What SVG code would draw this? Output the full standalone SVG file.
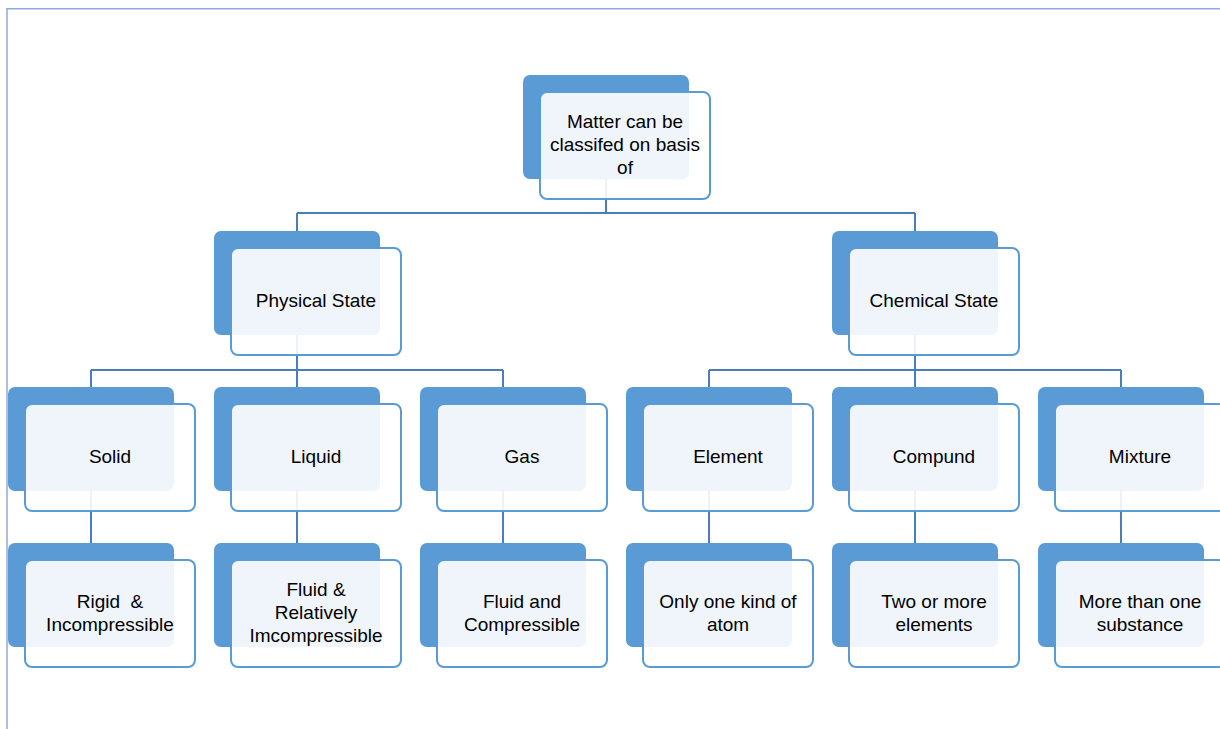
<svg xmlns="http://www.w3.org/2000/svg" width="1220" height="729" viewBox="0 0 1220 729">
<style>
.bk{fill:#5B9BD5;}
.fr{fill:#FFFFFF;fill-opacity:0.9;stroke:#5B9BD5;stroke-width:2;}
.cn{stroke:#4A7EBB;stroke-width:2;fill:none;}
.fm{stroke:#8FAADC;stroke-width:1.5;fill:none;}
text{font-family:"Liberation Sans",Arial,sans-serif;font-size:19px;fill:#000;text-anchor:middle;}
</style>
<rect width="1220" height="729" fill="#FFFFFF"/>
<path class="fm" d="M7,729 V8.7 H1220"/>
<g id="connectors">
<path class="cn" d="M606,179 V213 M297,213 H915 M297,213 V231 M915,213 V231"/>
<path class="cn" d="M297,335 V370 M91,370 H503 M91,370 V387 M297,370 V387 M503,370 V387"/>
<path class="cn" d="M915,335 V370 M709,370 H1121 M709,370 V387 M915,370 V387 M1121,370 V387"/>
<path class="cn" d="M91,491 V543 M297,491 V543 M503,491 V543 M709,491 V543 M915,491 V543 M1121,491 V543"/>
</g>
<g id="root">
<rect class="bk" x="523" y="75" width="166" height="104" rx="7"/>
<rect class="fr" x="540" y="92" width="170" height="107" rx="7"/>
<text x="625" y="128">Matter can be</text>
<text x="625" y="151">classifed on basis</text>
<text x="625" y="174">of</text>
</g>
<g id="physical">
<rect class="bk" x="214" y="231" width="166" height="104" rx="7"/>
<rect class="fr" x="231" y="248" width="170" height="107" rx="7"/>
<text x="316" y="307">Physical State</text>
</g>
<g id="chemical">
<rect class="bk" x="832" y="231" width="166" height="104" rx="7"/>
<rect class="fr" x="849" y="248" width="170" height="107" rx="7"/>
<text x="934" y="307">Chemical State</text>
</g>
<g id="solid">
<rect class="bk" x="8" y="387" width="166" height="104" rx="7"/>
<rect class="fr" x="25" y="404" width="170" height="107" rx="7"/>
<text x="110" y="463">Solid</text>
</g>
<g id="liquid">
<rect class="bk" x="214" y="387" width="166" height="104" rx="7"/>
<rect class="fr" x="231" y="404" width="170" height="107" rx="7"/>
<text x="316" y="463">Liquid</text>
</g>
<g id="gas">
<rect class="bk" x="420" y="387" width="166" height="104" rx="7"/>
<rect class="fr" x="437" y="404" width="170" height="107" rx="7"/>
<text x="522" y="463">Gas</text>
</g>
<g id="element">
<rect class="bk" x="626" y="387" width="166" height="104" rx="7"/>
<rect class="fr" x="643" y="404" width="170" height="107" rx="7"/>
<text x="728" y="463">Element</text>
</g>
<g id="compound">
<rect class="bk" x="832" y="387" width="166" height="104" rx="7"/>
<rect class="fr" x="849" y="404" width="170" height="107" rx="7"/>
<text x="934" y="463">Compund</text>
</g>
<g id="mixture">
<rect class="bk" x="1038" y="387" width="166" height="104" rx="7"/>
<rect class="fr" x="1055" y="404" width="170" height="107" rx="7"/>
<text x="1140" y="463">Mixture</text>
</g>
<g id="solid-desc">
<rect class="bk" x="8" y="543" width="166" height="104" rx="7"/>
<rect class="fr" x="25" y="560" width="170" height="107" rx="7"/>
<text x="110" y="608" xml:space="preserve">Rigid  &amp;</text>
<text x="110" y="631">Incompressible</text>
</g>
<g id="liquid-desc">
<rect class="bk" x="214" y="543" width="166" height="104" rx="7"/>
<rect class="fr" x="231" y="560" width="170" height="107" rx="7"/>
<text x="316" y="596">Fluid &amp;</text>
<text x="316" y="619">Relatively</text>
<text x="316" y="642">Imcompressible</text>
</g>
<g id="gas-desc">
<rect class="bk" x="420" y="543" width="166" height="104" rx="7"/>
<rect class="fr" x="437" y="560" width="170" height="107" rx="7"/>
<text x="522" y="608">Fluid and</text>
<text x="522" y="631">Compressible</text>
</g>
<g id="element-desc">
<rect class="bk" x="626" y="543" width="166" height="104" rx="7"/>
<rect class="fr" x="643" y="560" width="170" height="107" rx="7"/>
<text x="728" y="608">Only one kind of</text>
<text x="728" y="631">atom</text>
</g>
<g id="compound-desc">
<rect class="bk" x="832" y="543" width="166" height="104" rx="7"/>
<rect class="fr" x="849" y="560" width="170" height="107" rx="7"/>
<text x="934" y="608">Two or more</text>
<text x="934" y="631">elements</text>
</g>
<g id="mixture-desc">
<rect class="bk" x="1038" y="543" width="166" height="104" rx="7"/>
<rect class="fr" x="1055" y="560" width="170" height="107" rx="7"/>
<text x="1140" y="608">More than one</text>
<text x="1140" y="631">substance</text>
</g>
</svg>
